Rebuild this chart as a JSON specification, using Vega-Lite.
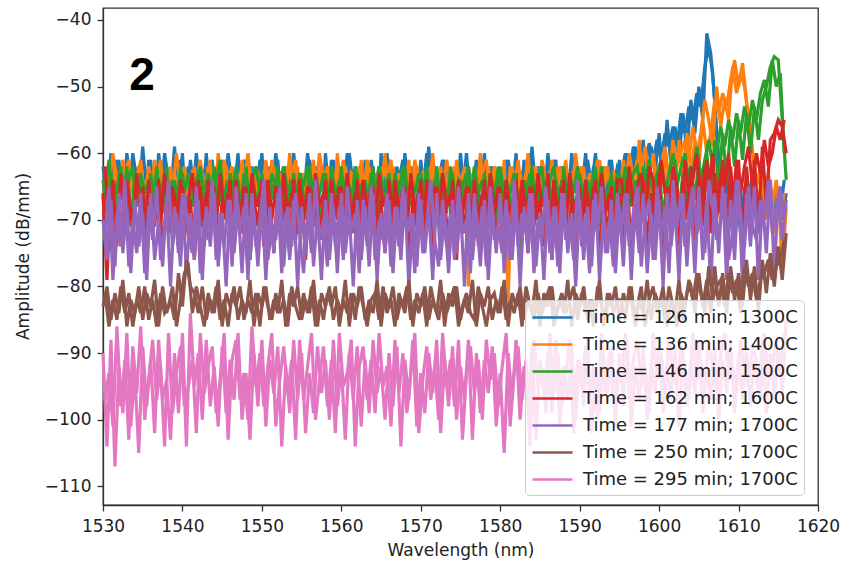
{
"$schema": "https://vega.github.io/schema/vega-lite/v6.json",
"width": 715, "height": 497,
"autosize": "none",
"padding": {"left": 103, "top": 8, "right": 25, "bottom": 58},
"background": "white",
"config": {"view": {"stroke": "#333", "strokeWidth": 1.3}, "font": "DejaVu Sans"},
"layer": [
{
"data": {"values": [
{"x":1530.0,"a":-62,"b":-67,"c":-64,"d":-66,"e":-70,"f":-83,"g":-90},
{"x":1530.5,"a":-67,"b":-63,"c":-69,"d":-79,"e":-76,"f":-80,"g":-104},
{"x":1531.0,"a":-60,"b":-68,"c":-63,"d":-65,"e":-67,"f":-85,"g":-88},
{"x":1531.5,"a":-66,"b":-62,"c":-70,"d":-72,"e":-77,"f":-81,"g":-107},
{"x":1532.0,"a":-61,"b":-66,"c":-64,"d":-67,"e":-66,"f":-84,"g":-92},
{"x":1532.5,"a":-68,"b":-61,"c":-67,"d":-74,"e":-75,"f":-79,"g":-99},
{"x":1533.0,"a":-60,"b":-69,"c":-62,"d":-64,"e":-68,"f":-86,"g":-87},
{"x":1533.5,"a":-65,"b":-63,"c":-71,"d":-70,"e":-78,"f":-82,"g":-101},
{"x":1534.0,"a":-62,"b":-67,"c":-63,"d":-68,"e":-67,"f":-84,"g":-93},
{"x":1534.5,"a":-67,"b":-62,"c":-68,"d":-73,"e":-74,"f":-80,"g":-105},
{"x":1535.0,"a":-59,"b":-66,"c":-65,"d":-65,"e":-69,"f":-85,"g":-89},
{"x":1535.5,"a":-66,"b":-64,"c":-70,"d":-76,"e":-79,"f":-81,"g":-98},
{"x":1536.0,"a":-61,"b":-68,"c":-63,"d":-66,"e":-66,"f":-83,"g":-91},
{"x":1536.5,"a":-69,"b":-61,"c":-67,"d":-71,"e":-76,"f":-79,"g":-102},
{"x":1537.0,"a":-60,"b":-67,"c":-64,"d":-64,"e":-70,"f":-86,"g":-88},
{"x":1537.5,"a":-65,"b":-63,"c":-69,"d":-75,"e":-77,"f":-80,"g":-97},
{"x":1538.0,"a":-62,"b":-66,"c":-62,"d":-67,"e":-67,"f":-84,"g":-94},
{"x":1538.5,"a":-67,"b":-62,"c":-71,"d":-72,"e":-80,"f":-82,"g":-103},
{"x":1539.0,"a":-59,"b":-68,"c":-64,"d":-66,"e":-68,"f":-85,"g":-90},
{"x":1539.5,"a":-66,"b":-63,"c":-68,"d":-74,"e":-75,"f":-78,"g":-99},
{"x":1540.0,"a":-60,"b":-67,"c":-63,"d":-65,"e":-66,"f":-83,"g":-87},
{"x":1540.5,"a":-70,"b":-64,"c":-70,"d":-70,"e":-78,"f":-76,"g":-104},
{"x":1541.0,"a":-61,"b":-66,"c":-65,"d":-67,"e":-69,"f":-80,"g":-84},
{"x":1541.5,"a":-66,"b":-62,"c":-67,"d":-76,"e":-76,"f":-81,"g":-95},
{"x":1542.0,"a":-62,"b":-69,"c":-63,"d":-64,"e":-67,"f":-84,"g":-90},
{"x":1542.5,"a":-68,"b":-63,"c":-71,"d":-71,"e":-79,"f":-80,"g":-100},
{"x":1543.0,"a":-60,"b":-67,"c":-64,"d":-66,"e":-68,"f":-85,"g":-88},
{"x":1543.5,"a":-67,"b":-61,"c":-69,"d":-73,"e":-74,"f":-82,"g":-98},
{"x":1544.0,"a":-63,"b":-68,"c":-62,"d":-65,"e":-66,"f":-84,"g":-92},
{"x":1544.5,"a":-65,"b":-60,"c":-68,"d":-75,"e":-77,"f":-79,"g":-101},
{"x":1545.0,"a":-61,"b":-66,"c":-65,"d":-67,"e":-69,"f":-86,"g":-89},
{"x":1545.5,"a":-69,"b":-62,"c":-70,"d":-70,"e":-80,"f":-81,"g":-99},
{"x":1546.0,"a":-62,"b":-67,"c":-63,"d":-64,"e":-67,"f":-83,"g":-91},
{"x":1546.5,"a":-66,"b":-63,"c":-67,"d":-74,"e":-75,"f":-80,"g":-97},
{"x":1547.0,"a":-60,"b":-68,"c":-64,"d":-66,"e":-68,"f":-85,"g":-87},
{"x":1547.5,"a":-72,"b":-61,"c":-71,"d":-72,"e":-78,"f":-82,"g":-100},
{"x":1548.0,"a":-61,"b":-66,"c":-62,"d":-65,"e":-66,"f":-84,"g":-93},
{"x":1548.5,"a":-67,"b":-62,"c":-69,"d":-76,"e":-76,"f":-79,"g":-103},
{"x":1549.0,"a":-63,"b":-69,"c":-65,"d":-67,"e":-69,"f":-86,"g":-90},
{"x":1549.5,"a":-66,"b":-63,"c":-68,"d":-71,"e":-77,"f":-81,"g":-98},
{"x":1550.0,"a":-60,"b":-67,"c":-63,"d":-64,"e":-67,"f":-83,"g":-88},
{"x":1550.5,"a":-68,"b":-61,"c":-70,"d":-73,"e":-79,"f":-80,"g":-101},
{"x":1551.0,"a":-62,"b":-66,"c":-64,"d":-66,"e":-68,"f":-85,"g":-91},
{"x":1551.5,"a":-65,"b":-62,"c":-67,"d":-75,"e":-75,"f":-82,"g":-96},
{"x":1552.0,"a":-61,"b":-68,"c":-62,"d":-65,"e":-66,"f":-84,"g":-89},
{"x":1552.5,"a":-70,"b":-63,"c":-71,"d":-70,"e":-78,"f":-79,"g":-104},
{"x":1553.0,"a":-62,"b":-67,"c":-65,"d":-67,"e":-69,"f":-86,"g":-92},
{"x":1553.5,"a":-67,"b":-60,"c":-68,"d":-74,"e":-76,"f":-81,"g":-99},
{"x":1554.0,"a":-60,"b":-66,"c":-63,"d":-64,"e":-67,"f":-83,"g":-88},
{"x":1554.5,"a":-66,"b":-62,"c":-69,"d":-72,"e":-80,"f":-80,"g":-97},
{"x":1555.0,"a":-63,"b":-69,"c":-64,"d":-66,"e":-68,"f":-85,"g":-90},
{"x":1555.5,"a":-68,"b":-63,"c":-70,"d":-76,"e":-75,"f":-82,"g":-102},
{"x":1556.0,"a":-61,"b":-67,"c":-62,"d":-65,"e":-66,"f":-84,"g":-93},
{"x":1556.5,"a":-65,"b":-61,"c":-67,"d":-71,"e":-77,"f":-79,"g":-99},
{"x":1557.0,"a":-62,"b":-68,"c":-65,"d":-67,"e":-69,"f":-86,"g":-89},
{"x":1557.5,"a":-73,"b":-62,"c":-71,"d":-73,"e":-79,"f":-81,"g":-96},
{"x":1558.0,"a":-60,"b":-66,"c":-63,"d":-64,"e":-67,"f":-83,"g":-91},
{"x":1558.5,"a":-67,"b":-63,"c":-68,"d":-75,"e":-76,"f":-80,"g":-100},
{"x":1559.0,"a":-61,"b":-69,"c":-64,"d":-66,"e":-68,"f":-85,"g":-88},
{"x":1559.5,"a":-66,"b":-60,"c":-69,"d":-70,"e":-78,"f":-82,"g":-98},
{"x":1560.0,"a":-62,"b":-67,"c":-62,"d":-65,"e":-66,"f":-84,"g":-92},
{"x":1560.5,"a":-69,"b":-62,"c":-70,"d":-74,"e":-75,"f":-79,"g":-103},
{"x":1561.0,"a":-60,"b":-66,"c":-65,"d":-67,"e":-69,"f":-86,"g":-90},
{"x":1561.5,"a":-65,"b":-63,"c":-67,"d":-72,"e":-80,"f":-81,"g":-97},
{"x":1562.0,"a":-63,"b":-68,"c":-63,"d":-64,"e":-67,"f":-83,"g":-89},
{"x":1562.5,"a":-68,"b":-61,"c":-71,"d":-76,"e":-76,"f":-80,"g":-101},
{"x":1563.0,"a":-61,"b":-67,"c":-64,"d":-66,"e":-68,"f":-85,"g":-91},
{"x":1563.5,"a":-66,"b":-62,"c":-68,"d":-71,"e":-77,"f":-82,"g":-99},
{"x":1564.0,"a":-62,"b":-69,"c":-62,"d":-65,"e":-66,"f":-84,"g":-88},
{"x":1564.5,"a":-71,"b":-63,"c":-70,"d":-73,"e":-79,"f":-79,"g":-96},
{"x":1565.0,"a":-60,"b":-66,"c":-65,"d":-67,"e":-69,"f":-86,"g":-92},
{"x":1565.5,"a":-67,"b":-60,"c":-67,"d":-75,"e":-75,"f":-81,"g":-100},
{"x":1566.0,"a":-61,"b":-68,"c":-63,"d":-64,"e":-67,"f":-83,"g":-90},
{"x":1566.5,"a":-65,"b":-62,"c":-69,"d":-70,"e":-78,"f":-80,"g":-98},
{"x":1567.0,"a":-62,"b":-67,"c":-64,"d":-66,"e":-68,"f":-85,"g":-89},
{"x":1567.5,"a":-68,"b":-63,"c":-70,"d":-74,"e":-76,"f":-82,"g":-104},
{"x":1568.0,"a":-60,"b":-66,"c":-62,"d":-65,"e":-66,"f":-84,"g":-91},
{"x":1568.5,"a":-66,"b":-61,"c":-68,"d":-76,"e":-80,"f":-79,"g":-97},
{"x":1569.0,"a":-63,"b":-69,"c":-65,"d":-67,"e":-69,"f":-86,"g":-88},
{"x":1569.5,"a":-69,"b":-62,"c":-71,"d":-71,"e":-77,"f":-81,"g":-101},
{"x":1570.0,"a":-61,"b":-67,"c":-63,"d":-64,"e":-67,"f":-83,"g":-93},
{"x":1570.5,"a":-67,"b":-63,"c":-67,"d":-73,"e":-75,"f":-80,"g":-99},
{"x":1571.0,"a":-59,"b":-66,"c":-64,"d":-66,"e":-68,"f":-85,"g":-90},
{"x":1571.5,"a":-66,"b":-60,"c":-69,"d":-75,"e":-79,"f":-82,"g":-96},
{"x":1572.0,"a":-62,"b":-68,"c":-62,"d":-65,"e":-66,"f":-84,"g":-88},
{"x":1572.5,"a":-70,"b":-62,"c":-70,"d":-70,"e":-76,"f":-79,"g":-102},
{"x":1573.0,"a":-61,"b":-67,"c":-65,"d":-67,"e":-69,"f":-86,"g":-91},
{"x":1573.5,"a":-65,"b":-63,"c":-68,"d":-74,"e":-78,"f":-81,"g":-98},
{"x":1574.0,"a":-63,"b":-69,"c":-63,"d":-64,"e":-67,"f":-83,"g":-89},
{"x":1574.5,"a":-68,"b":-61,"c":-71,"d":-76,"e":-75,"f":-80,"g":-100},
{"x":1575.0,"a":-60,"b":-66,"c":-64,"d":-66,"e":-68,"f":-85,"g":-92},
{"x":1575.5,"a":-67,"b":-62,"c":-67,"d":-72,"e":-80,"f":-82,"g":-97},
{"x":1576.0,"a":-62,"b":-80,"c":-62,"d":-65,"e":-66,"f":-84,"g":-88},
{"x":1576.5,"a":-66,"b":-63,"c":-69,"d":-73,"e":-76,"f":-79,"g":-103},
{"x":1577.0,"a":-61,"b":-67,"c":-65,"d":-67,"e":-69,"f":-86,"g":-90},
{"x":1577.5,"a":-71,"b":-60,"c":-70,"d":-75,"e":-77,"f":-81,"g":-99},
{"x":1578.0,"a":-60,"b":-68,"c":-63,"d":-64,"e":-67,"f":-83,"g":-91},
{"x":1578.5,"a":-67,"b":-62,"c":-68,"d":-70,"e":-79,"f":-80,"g":-96},
{"x":1579.0,"a":-62,"b":-66,"c":-64,"d":-66,"e":-68,"f":-85,"g":-89},
{"x":1579.5,"a":-65,"b":-63,"c":-71,"d":-74,"e":-75,"f":-82,"g":-101},
{"x":1580.0,"a":-63,"b":-69,"c":-62,"d":-65,"e":-66,"f":-84,"g":-93},
{"x":1580.5,"a":-68,"b":-61,"c":-67,"d":-76,"e":-78,"f":-79,"g":-105},
{"x":1581.0,"a":-61,"b":-82,"c":-65,"d":-67,"e":-69,"f":-86,"g":-90},
{"x":1581.5,"a":-66,"b":-62,"c":-69,"d":-71,"e":-76,"f":-81,"g":-97},
{"x":1582.0,"a":-60,"b":-67,"c":-63,"d":-64,"e":-67,"f":-83,"g":-88},
{"x":1582.5,"a":-69,"b":-63,"c":-78,"d":-73,"e":-80,"f":-80,"g":-100},
{"x":1583.0,"a":-61,"b":-66,"c":-64,"d":-66,"e":-68,"f":-85,"g":-92},
{"x":1583.5,"a":-67,"b":-60,"c":-68,"d":-75,"e":-75,"f":-82,"g":-98},
{"x":1584.0,"a":-59,"b":-68,"c":-62,"d":-65,"e":-66,"f":-84,"g":-89},
{"x":1584.5,"a":-66,"b":-62,"c":-70,"d":-70,"e":-77,"f":-79,"g":-103},
{"x":1585.0,"a":-62,"b":-67,"c":-65,"d":-67,"e":-69,"f":-86,"g":-91},
{"x":1585.5,"a":-68,"b":-63,"c":-67,"d":-74,"e":-79,"f":-81,"g":-96},
{"x":1586.0,"a":-60,"b":-69,"c":-63,"d":-63,"e":-67,"f":-83,"g":-90},
{"x":1586.5,"a":-65,"b":-61,"c":-69,"d":-76,"e":-76,"f":-80,"g":-99},
{"x":1587.0,"a":-61,"b":-66,"c":-64,"d":-66,"e":-68,"f":-85,"g":-88},
{"x":1587.5,"a":-72,"b":-62,"c":-71,"d":-72,"e":-78,"f":-82,"g":-101},
{"x":1588.0,"a":-62,"b":-68,"c":-62,"d":-64,"e":-66,"f":-84,"g":-92},
{"x":1588.5,"a":-67,"b":-63,"c":-68,"d":-73,"e":-75,"f":-79,"g":-97},
{"x":1589.0,"a":-60,"b":-67,"c":-65,"d":-67,"e":-69,"f":-86,"g":-89},
{"x":1589.5,"a":-66,"b":-60,"c":-70,"d":-75,"e":-80,"f":-81,"g":-100},
{"x":1590.0,"a":-63,"b":-66,"c":-63,"d":-65,"e":-67,"f":-83,"g":-91},
{"x":1590.5,"a":-69,"b":-62,"c":-67,"d":-71,"e":-76,"f":-80,"g":-98},
{"x":1591.0,"a":-61,"b":-69,"c":-64,"d":-66,"e":-68,"f":-85,"g":-88},
{"x":1591.5,"a":-65,"b":-63,"c":-69,"d":-74,"e":-77,"f":-82,"g":-102},
{"x":1592.0,"a":-60,"b":-67,"c":-62,"d":-64,"e":-66,"f":-84,"g":-93},
{"x":1592.5,"a":-68,"b":-61,"c":-71,"d":-76,"e":-79,"f":-79,"g":-99},
{"x":1593.0,"a":-62,"b":-66,"c":-65,"d":-67,"e":-69,"f":-86,"g":-90},
{"x":1593.5,"a":-66,"b":-62,"c":-68,"d":-72,"e":-75,"f":-81,"g":-96},
{"x":1594.0,"a":-61,"b":-68,"c":-63,"d":-65,"e":-67,"f":-83,"g":-89},
{"x":1594.5,"a":-67,"b":-63,"c":-70,"d":-73,"e":-78,"f":-80,"g":-101},
{"x":1595.0,"a":-61,"b":-67,"c":-63,"d":-66,"e":-68,"f":-85,"g":-90},
{"x":1595.5,"a":-66,"b":-61,"c":-69,"d":-73,"e":-77,"f":-81,"g":-98},
{"x":1596.0,"a":-60,"b":-66,"c":-62,"d":-64,"e":-66,"f":-83,"g":-88},
{"x":1596.5,"a":-65,"b":-62,"c":-68,"d":-75,"e":-79,"f":-80,"g":-101},
{"x":1597.0,"a":-59,"b":-68,"c":-64,"d":-66,"e":-68,"f":-86,"g":-92},
{"x":1597.5,"a":-64,"b":-58,"c":-70,"d":-70,"e":-75,"f":-82,"g":-97},
{"x":1598.0,"a":-58,"b":-66,"c":-62,"d":-64,"e":-66,"f":-84,"g":-89},
{"x":1598.5,"a":-65,"b":-61,"c":-67,"d":-74,"e":-78,"f":-79,"g":-100},
{"x":1599.0,"a":-59,"b":-67,"c":-63,"d":-66,"e":-69,"f":-85,"g":-91},
{"x":1599.5,"a":-63,"b":-62,"c":-69,"d":-72,"e":-76,"f":-81,"g":-96},
{"x":1600.0,"a":-57,"b":-68,"c":-62,"d":-63,"e":-67,"f":-83,"g":-88},
{"x":1600.5,"a":-64,"b":-60,"c":-70,"d":-75,"e":-80,"f":-80,"g":-99},
{"x":1601.0,"a":-55,"b":-66,"c":-64,"d":-65,"e":-66,"f":-86,"g":-92},
{"x":1601.5,"a":-62,"b":-61,"c":-67,"d":-71,"e":-74,"f":-82,"g":-97},
{"x":1602.0,"a":-56,"b":-65,"c":-61,"d":-63,"e":-68,"f":-84,"g":-89},
{"x":1602.5,"a":-61,"b":-58,"c":-69,"d":-74,"e":-79,"f":-79,"g":-101},
{"x":1603.0,"a":-54,"b":-64,"c":-63,"d":-64,"e":-66,"f":-85,"g":-90},
{"x":1603.5,"a":-60,"b":-57,"c":-68,"d":-70,"e":-77,"f":-81,"g":-98},
{"x":1604.0,"a":-52,"b":-63,"c":-62,"d":-62,"e":-67,"f":-80,"g":-91},
{"x":1604.5,"a":-57,"b":-58,"c":-67,"d":-73,"e":-78,"f":-84,"g":-96},
{"x":1605.0,"a":-50,"b":-62,"c":-61,"d":-63,"e":-65,"f":-78,"g":-88},
{"x":1605.5,"a":-55,"b":-55,"c":-69,"d":-71,"e":-76,"f":-83,"g":-99},
{"x":1606.0,"a":-42,"b":-60,"c":-60,"d":-61,"e":-67,"f":-79,"g":-92},
{"x":1606.5,"a":-45,"b":-57,"c":-66,"d":-72,"e":-80,"f":-84,"g":-97},
{"x":1607.0,"a":-52,"b":-52,"c":-58,"d":-63,"e":-66,"f":-77,"g":-89},
{"x":1607.5,"a":-62,"b":-54,"c":-65,"d":-69,"e":-75,"f":-83,"g":-100},
{"x":1608.0,"a":-66,"b":-51,"c":-57,"d":-61,"e":-65,"f":-78,"g":-91},
{"x":1608.5,"a":-71,"b":-53,"c":-64,"d":-72,"e":-79,"f":-84,"g":-96},
{"x":1609.0,"a":-65,"b":-49,"c":-56,"d":-62,"e":-67,"f":-77,"g":-88},
{"x":1609.5,"a":-74,"b":-46,"c":-62,"d":-70,"e":-76,"f":-82,"g":-99},
{"x":1610.0,"a":-64,"b":-50,"c":-55,"d":-61,"e":-64,"f":-78,"g":-90},
{"x":1610.5,"a":-77,"b":-46.5,"c":-61,"d":-73,"e":-80,"f":-83,"g":-97},
{"x":1611.0,"a":-66,"b":-52,"c":-54,"d":-62,"e":-66,"f":-76,"g":-89},
{"x":1611.5,"a":-70,"b":-57,"c":-60,"d":-69,"e":-74,"f":-82,"g":-98},
{"x":1612.0,"a":-65,"b":-62,"c":-53,"d":-61,"e":-65,"f":-77,"g":-91},
{"x":1612.5,"a":-72,"b":-68,"c":-58,"d":-71,"e":-79,"f":-84,"g":-96},
{"x":1613.0,"a":-64,"b":-63,"c":-52,"d":-59,"e":-67,"f":-76,"g":-88},
{"x":1613.5,"a":-69,"b":-70,"c":-50,"d":-68,"e":-75,"f":-81,"g":-99},
{"x":1614.0,"a":-66,"b":-64,"c":-47,"d":-58,"e":-64,"f":-75,"g":-90},
{"x":1614.5,"a":-71,"b":-72,"c":-45.5,"d":-57,"e":-78,"f":-80,"g":-97},
{"x":1615.0,"a":-65,"b":-65,"c":-46,"d":-55,"e":-66,"f":-74,"g":-89},
{"x":1615.5,"a":-70,"b":-78,"c":-55,"d":-56,"e":-73,"f":-79,"g":-96},
{"x":1616.0,"a":-66,"b":-68,"c":-64,"d":-60,"e":-67,"f":-72,"g":-85},
{"x":1530.25,"p":1,"a":-64,"b":-62,"c":-66,"d":-62,"e":-73,"f":-81,"g":-97},
{"x":1530.75,"p":1,"a":-63,"b":-65,"c":-61,"d":-70,"e":-65,"f":-86,"g":-93},
{"x":1531.25,"p":1,"a":-68,"b":-60,"c":-67,"d":-64,"e":-79,"f":-82,"g":-101},
{"x":1531.75,"p":1,"a":-61,"b":-64,"c":-65,"d":-74,"e":-69,"f":-85,"g":-86},
{"x":1532.25,"p":1,"a":-65,"b":-68,"c":-62,"d":-63,"e":-74,"f":-80,"g":-98},
{"x":1532.75,"p":1,"a":-62,"b":-63,"c":-69,"d":-69,"e":-64,"f":-84,"g":-91},
{"x":1533.25,"p":1,"a":-67,"b":-61,"c":-64,"d":-66,"e":-77,"f":-81,"g":-103},
{"x":1533.75,"p":1,"a":-60,"b":-66,"c":-62,"d":-72,"e":-70,"f":-86,"g":-89},
{"x":1534.25,"p":1,"a":-64,"b":-64,"c":-68,"d":-63,"e":-75,"f":-82,"g":-96},
{"x":1534.75,"p":1,"a":-63,"b":-61,"c":-63,"d":-69,"e":-66,"f":-84,"g":-86},
{"x":1535.25,"p":1,"a":-69,"b":-67,"c":-66,"d":-73,"e":-78,"f":-80,"g":-100},
{"x":1535.75,"p":1,"a":-61,"b":-62,"c":-64,"d":-64,"e":-68,"f":-85,"g":-94},
{"x":1536.25,"p":1,"a":-65,"b":-65,"c":-70,"d":-70,"e":-73,"f":-82,"g":-88},
{"x":1536.75,"p":1,"a":-62,"b":-64,"c":-62,"d":-66,"e":-65,"f":-86,"g":-97},
{"x":1537.25,"p":1,"a":-67,"b":-61,"c":-67,"d":-71,"e":-76,"f":-81,"g":-92},
{"x":1537.75,"p":1,"a":-60,"b":-68,"c":-63,"d":-63,"e":-71,"f":-84,"g":-104},
{"x":1538.25,"p":1,"a":-64,"b":-63,"c":-66,"d":-69,"e":-64,"f":-83,"g":-87},
{"x":1538.75,"p":1,"a":-63,"b":-66,"c":-64,"d":-65,"e":-74,"f":-80,"g":-99},
{"x":1539.25,"p":1,"a":-68,"b":-60,"c":-69,"d":-72,"e":-69,"f":-86,"g":-93},
{"x":1539.75,"p":1,"a":-61,"b":-65,"c":-62,"d":-64,"e":-77,"f":-82,"g":-89},
{"x":1540.25,"p":1,"a":-65,"b":-62,"c":-66,"d":-73,"e":-66,"f":-78,"g":-98},
{"x":1540.75,"p":1,"a":-62,"b":-67,"c":-63,"d":-67,"e":-72,"f":-77,"g":-95},
{"x":1541.25,"p":1,"a":-67,"b":-63,"c":-68,"d":-63,"e":-75,"f":-84,"g":-91},
{"x":1541.75,"p":1,"a":-60,"b":-64,"c":-64,"d":-70,"e":-65,"f":-80,"g":-102},
{"x":1542.25,"p":1,"a":-66,"b":-61,"c":-62,"d":-65,"e":-78,"f":-83,"g":-87},
{"x":1542.75,"p":1,"a":-63,"b":-66,"c":-67,"d":-74,"e":-70,"f":-86,"g":-96},
{"x":1543.25,"p":1,"a":-64,"b":-62,"c":-63,"d":-64,"e":-73,"f":-81,"g":-92},
{"x":1543.75,"p":1,"a":-61,"b":-65,"c":-66,"d":-68,"e":-64,"f":-84,"g":-89},
{"x":1544.25,"p":1,"a":-69,"b":-63,"c":-64,"d":-71,"e":-76,"f":-80,"g":-99},
{"x":1544.75,"p":1,"a":-62,"b":-67,"c":-61,"d":-63,"e":-69,"f":-85,"g":-94},
{"x":1545.25,"p":1,"a":-66,"b":-61,"c":-68,"d":-69,"e":-74,"f":-82,"g":-87},
{"x":1545.75,"p":1,"a":-60,"b":-64,"c":-64,"d":-66,"e":-67,"f":-86,"g":-103},
{"x":1546.25,"p":1,"a":-65,"b":-62,"c":-66,"d":-72,"e":-77,"f":-81,"g":-91},
{"x":1546.75,"p":1,"a":-63,"b":-68,"c":-62,"d":-64,"e":-65,"f":-83,"g":-88},
{"x":1547.25,"p":1,"a":-67,"b":-63,"c":-69,"d":-70,"e":-72,"f":-80,"g":-97},
{"x":1547.75,"p":1,"a":-61,"b":-65,"c":-63,"d":-65,"e":-68,"f":-85,"g":-93},
{"x":1548.25,"p":1,"a":-64,"b":-60,"c":-67,"d":-73,"e":-79,"f":-82,"g":-100},
{"x":1548.75,"p":1,"a":-62,"b":-66,"c":-64,"d":-63,"e":-66,"f":-84,"g":-86},
{"x":1549.25,"p":1,"a":-68,"b":-62,"c":-62,"d":-68,"e":-74,"f":-81,"g":-95},
{"x":1549.75,"p":1,"a":-61,"b":-64,"c":-66,"d":-66,"e":-70,"f":-86,"g":-90},
{"x":1550.25,"p":1,"a":-65,"b":-63,"c":-64,"d":-74,"e":-64,"f":-80,"g":-98},
{"x":1550.75,"p":1,"a":-63,"b":-67,"c":-68,"d":-64,"e":-76,"f":-83,"g":-92},
{"x":1551.25,"p":1,"a":-66,"b":-61,"c":-63,"d":-70,"e":-71,"f":-85,"g":-87},
{"x":1551.75,"p":1,"a":-60,"b":-65,"c":-65,"d":-65,"e":-73,"f":-81,"g":-101},
{"x":1552.25,"p":1,"a":-64,"b":-63,"c":-69,"d":-72,"e":-65,"f":-84,"g":-94},
{"x":1552.75,"p":1,"a":-62,"b":-66,"c":-62,"d":-63,"e":-77,"f":-82,"g":-89},
{"x":1553.25,"p":1,"a":-69,"b":-62,"c":-66,"d":-69,"e":-68,"f":-86,"g":-96},
{"x":1553.75,"p":1,"a":-61,"b":-64,"c":-64,"d":-66,"e":-74,"f":-80,"g":-91},
{"x":1554.25,"p":1,"a":-65,"b":-61,"c":-67,"d":-73,"e":-66,"f":-83,"g":-103},
{"x":1554.75,"p":1,"a":-63,"b":-68,"c":-63,"d":-64,"e":-72,"f":-85,"g":-88},
{"x":1555.25,"p":1,"a":-67,"b":-63,"c":-65,"d":-70,"e":-78,"f":-81,"g":-97},
{"x":1555.75,"p":1,"a":-60,"b":-65,"c":-62,"d":-65,"e":-69,"f":-84,"g":-92},
{"x":1556.25,"p":1,"a":-64,"b":-62,"c":-68,"d":-71,"e":-75,"f":-80,"g":-87},
{"x":1556.75,"p":1,"a":-62,"b":-66,"c":-64,"d":-63,"e":-64,"f":-86,"g":-100},
{"x":1557.25,"p":1,"a":-66,"b":-60,"c":-66,"d":-68,"e":-73,"f":-82,"g":-94},
{"x":1557.75,"p":1,"a":-63,"b":-64,"c":-63,"d":-66,"e":-70,"f":-85,"g":-89},
{"x":1558.25,"p":1,"a":-68,"b":-62,"c":-69,"d":-74,"e":-77,"f":-81,"g":-98},
{"x":1558.75,"p":1,"a":-61,"b":-67,"c":-62,"d":-64,"e":-66,"f":-83,"g":-91},
{"x":1559.25,"p":1,"a":-65,"b":-63,"c":-67,"d":-69,"e":-74,"f":-80,"g":-102},
{"x":1559.75,"p":1,"a":-62,"b":-65,"c":-64,"d":-65,"e":-68,"f":-86,"g":-87},
{"x":1560.25,"p":1,"a":-66,"b":-61,"c":-66,"d":-72,"e":-76,"f":-82,"g":-95},
{"x":1560.75,"p":1,"a":-60,"b":-66,"c":-63,"d":-63,"e":-65,"f":-84,"g":-93},
{"x":1561.25,"p":1,"a":-67,"b":-63,"c":-68,"d":-70,"e":-72,"f":-81,"g":-88},
{"x":1561.75,"p":1,"a":-62,"b":-64,"c":-62,"d":-66,"e":-69,"f":-85,"g":-104},
{"x":1562.25,"p":1,"a":-64,"b":-62,"c":-66,"d":-73,"e":-78,"f":-80,"g":-92},
{"x":1562.75,"p":1,"a":-63,"b":-67,"c":-64,"d":-64,"e":-67,"f":-83,"g":-89},
{"x":1563.25,"p":1,"a":-69,"b":-61,"c":-69,"d":-69,"e":-74,"f":-86,"g":-97},
{"x":1563.75,"p":1,"a":-61,"b":-65,"c":-63,"d":-65,"e":-65,"f":-82,"g":-91},
{"x":1564.25,"p":1,"a":-65,"b":-63,"c":-67,"d":-72,"e":-76,"f":-81,"g":-99},
{"x":1564.75,"p":1,"a":-62,"b":-66,"c":-62,"d":-63,"e":-70,"f":-85,"g":-87},
{"x":1565.25,"p":1,"a":-66,"b":-62,"c":-65,"d":-68,"e":-73,"f":-80,"g":-95},
{"x":1565.75,"p":1,"a":-60,"b":-64,"c":-64,"d":-66,"e":-66,"f":-84,"g":-92},
{"x":1566.25,"p":1,"a":-67,"b":-61,"c":-68,"d":-74,"e":-77,"f":-82,"g":-101},
{"x":1566.75,"p":1,"a":-63,"b":-67,"c":-63,"d":-64,"e":-68,"f":-86,"g":-88},
{"x":1567.25,"p":1,"a":-64,"b":-63,"c":-66,"d":-70,"e":-74,"f":-81,"g":-96},
{"x":1567.75,"p":1,"a":-61,"b":-65,"c":-62,"d":-65,"e":-65,"f":-83,"g":-90},
{"x":1568.25,"p":1,"a":-68,"b":-62,"c":-69,"d":-72,"e":-72,"f":-80,"g":-99},
{"x":1568.75,"p":1,"a":-62,"b":-66,"c":-64,"d":-63,"e":-69,"f":-85,"g":-93},
{"x":1569.25,"p":1,"a":-65,"b":-61,"c":-66,"d":-69,"e":-78,"f":-82,"g":-87},
{"x":1569.75,"p":1,"a":-63,"b":-64,"c":-63,"d":-66,"e":-66,"f":-84,"g":-102},
{"x":1570.25,"p":1,"a":-66,"b":-63,"c":-67,"d":-73,"e":-75,"f":-81,"g":-94},
{"x":1570.75,"p":1,"a":-60,"b":-67,"c":-62,"d":-64,"e":-71,"f":-86,"g":-89},
{"x":1571.25,"p":1,"a":-67,"b":-62,"c":-68,"d":-70,"e":-64,"f":-80,"g":-97},
{"x":1571.75,"p":1,"a":-62,"b":-65,"c":-64,"d":-65,"e":-73,"f":-83,"g":-92},
{"x":1572.25,"p":1,"a":-64,"b":-63,"c":-66,"d":-71,"e":-77,"f":-85,"g":-100},
{"x":1572.75,"p":1,"a":-61,"b":-66,"c":-63,"d":-63,"e":-67,"f":-81,"g":-87},
{"x":1573.25,"p":1,"a":-68,"b":-61,"c":-69,"d":-68,"e":-74,"f":-84,"g":-95},
{"x":1573.75,"p":1,"a":-63,"b":-64,"c":-62,"d":-66,"e":-69,"f":-82,"g":-91},
{"x":1574.25,"p":1,"a":-65,"b":-62,"c":-67,"d":-74,"e":-76,"f":-80,"g":-98},
{"x":1574.75,"p":1,"a":-62,"b":-67,"c":-64,"d":-64,"e":-65,"f":-86,"g":-88},
{"x":1575.25,"p":1,"a":-66,"b":-63,"c":-65,"d":-69,"e":-72,"f":-83,"g":-103},
{"x":1575.75,"p":1,"a":-60,"b":-65,"c":-63,"d":-65,"e":-70,"f":-81,"g":-93},
{"x":1576.25,"p":1,"a":-67,"b":-72,"c":-68,"d":-72,"e":-78,"f":-84,"g":-89},
{"x":1576.75,"p":1,"a":-63,"b":-62,"c":-62,"d":-64,"e":-66,"f":-85,"g":-96},
{"x":1577.25,"p":1,"a":-64,"b":-66,"c":-66,"d":-70,"e":-74,"f":-80,"g":-91},
{"x":1577.75,"p":1,"a":-61,"b":-63,"c":-64,"d":-66,"e":-68,"f":-83,"g":-100},
{"x":1578.25,"p":1,"a":-68,"b":-61,"c":-69,"d":-73,"e":-77,"f":-86,"g":-88},
{"x":1578.75,"p":1,"a":-62,"b":-67,"c":-63,"d":-63,"e":-65,"f":-82,"g":-94},
{"x":1579.25,"p":1,"a":-66,"b":-62,"c":-67,"d":-69,"e":-73,"f":-81,"g":-90},
{"x":1579.75,"p":1,"a":-63,"b":-64,"c":-62,"d":-65,"e":-71,"f":-84,"g":-98},
{"x":1580.25,"p":1,"a":-65,"b":-63,"c":-68,"d":-72,"e":-75,"f":-80,"g":-92},
{"x":1580.75,"p":1,"a":-61,"b":-74,"c":-64,"d":-64,"e":-67,"f":-85,"g":-87},
{"x":1581.25,"p":1,"a":-67,"b":-62,"c":-66,"d":-70,"e":-76,"f":-82,"g":-101},
{"x":1581.75,"p":1,"a":-62,"b":-65,"c":-63,"d":-66,"e":-64,"f":-84,"g":-93},
{"x":1582.25,"p":1,"a":-64,"b":-61,"c":-70,"d":-73,"e":-74,"f":-81,"g":-89},
{"x":1582.75,"p":1,"a":-63,"b":-66,"c":-72,"d":-64,"e":-69,"f":-86,"g":-97},
{"x":1583.25,"p":1,"a":-68,"b":-63,"c":-66,"d":-69,"e":-72,"f":-80,"g":-91},
{"x":1583.75,"p":1,"a":-60,"b":-65,"c":-63,"d":-65,"e":-66,"f":-83,"g":-104},
{"x":1584.25,"p":1,"a":-66,"b":-62,"c":-67,"d":-71,"e":-78,"f":-85,"g":-88},
{"x":1584.75,"p":1,"a":-62,"b":-67,"c":-64,"d":-63,"e":-70,"f":-81,"g":-95},
{"x":1585.25,"p":1,"a":-65,"b":-61,"c":-62,"d":-68,"e":-73,"f":-84,"g":-92},
{"x":1585.75,"p":1,"a":-63,"b":-64,"c":-68,"d":-66,"e":-65,"f":-82,"g":-99},
{"x":1586.25,"p":1,"a":-67,"b":-63,"c":-64,"d":-74,"e":-75,"f":-80,"g":-87},
{"x":1586.75,"p":1,"a":-61,"b":-66,"c":-62,"d":-64,"e":-68,"f":-86,"g":-96},
{"x":1587.25,"p":1,"a":-64,"b":-62,"c":-67,"d":-70,"e":-77,"f":-83,"g":-90},
{"x":1587.75,"p":1,"a":-62,"b":-65,"c":-64,"d":-65,"e":-66,"f":-81,"g":-98},
{"x":1588.25,"p":1,"a":-69,"b":-61,"c":-69,"d":-72,"e":-73,"f":-84,"g":-93},
{"x":1588.75,"p":1,"a":-63,"b":-67,"c":-63,"d":-63,"e":-70,"f":-82,"g":-88},
{"x":1589.25,"p":1,"a":-65,"b":-63,"c":-66,"d":-69,"e":-76,"f":-80,"g":-102},
{"x":1589.75,"p":1,"a":-62,"b":-64,"c":-62,"d":-66,"e":-64,"f":-85,"g":-91},
{"x":1590.25,"p":1,"a":-66,"b":-62,"c":-68,"d":-73,"e":-74,"f":-81,"g":-95},
{"x":1590.75,"p":1,"a":-60,"b":-66,"c":-64,"d":-64,"e":-69,"f":-84,"g":-89},
{"x":1591.25,"p":1,"a":-67,"b":-63,"c":-66,"d":-70,"e":-78,"f":-82,"g":-97},
{"x":1591.75,"p":1,"a":-62,"b":-65,"c":-63,"d":-65,"e":-67,"f":-86,"g":-92},
{"x":1592.25,"p":1,"a":-64,"b":-61,"c":-67,"d":-72,"e":-72,"f":-80,"g":-100},
{"x":1592.75,"p":1,"a":-63,"b":-66,"c":-62,"d":-63,"e":-65,"f":-83,"g":-87},
{"x":1593.25,"p":1,"a":-68,"b":-62,"c":-69,"d":-69,"e":-75,"f":-85,"g":-96},
{"x":1593.75,"p":1,"a":-61,"b":-64,"c":-64,"d":-66,"e":-70,"f":-81,"g":-90},
{"x":1594.25,"p":1,"a":-65,"b":-63,"c":-66,"d":-74,"e":-77,"f":-84,"g":-98},
{"x":1594.75,"p":1,"a":-62,"b":-67,"c":-63,"d":-64,"e":-66,"f":-82,"g":-93},
{"x":1595.25,"p":1,"a":-63,"b":-63,"c":-66,"d":-64,"e":-72,"f":-82,"g":-94},
{"x":1595.75,"p":1,"a":-60,"b":-65,"c":-62,"d":-69,"e":-66,"f":-85,"g":-87},
{"x":1596.25,"p":1,"a":-64,"b":-60,"c":-65,"d":-62,"e":-74,"f":-80,"g":-97},
{"x":1596.75,"p":1,"a":-59,"b":-64,"c":-63,"d":-68,"e":-69,"f":-84,"g":-91},
{"x":1597.25,"p":1,"a":-63,"b":-61,"c":-62,"d":-65,"e":-65,"f":-83,"g":-88},
{"x":1597.75,"p":1,"a":-60,"b":-63,"c":-67,"d":-63,"e":-77,"f":-80,"g":-95},
{"x":1598.25,"p":1,"a":-62,"b":-59,"c":-64,"d":-70,"e":-70,"f":-86,"g":-92},
{"x":1598.75,"p":1,"a":-58.5,"b":-64,"c":-61,"d":-62,"e":-67,"f":-82,"g":-99},
{"x":1599.25,"p":1,"a":-61,"b":-60,"c":-66,"d":-64,"e":-76,"f":-80,"g":-87},
{"x":1599.75,"p":1,"a":-58,"b":-65,"c":-63,"d":-71,"e":-65,"f":-84,"g":-94},
{"x":1600.25,"p":1,"a":-61,"b":-62,"c":-61,"d":-61,"e":-73,"f":-82,"g":-90},
{"x":1600.75,"p":1,"a":-57,"b":-59,"c":-66,"d":-66,"e":-68,"f":-85,"g":-96},
{"x":1601.25,"p":1,"a":-59,"b":-64,"c":-63,"d":-68,"e":-78,"f":-80,"g":-88},
{"x":1601.75,"p":1,"a":-56,"b":-58,"c":-60,"d":-62,"e":-64,"f":-83,"g":-93},
{"x":1602.25,"p":1,"a":-59,"b":-62,"c":-65,"d":-65,"e":-71,"f":-86,"g":-95},
{"x":1602.75,"p":1,"a":-54,"b":-60,"c":-62,"d":-72,"e":-66,"f":-81,"g":-89},
{"x":1603.25,"p":1,"a":-57,"b":-58,"c":-60,"d":-61,"e":-74,"f":-83,"g":-92},
{"x":1603.75,"p":1,"a":-53,"b":-61,"c":-64,"d":-67,"e":-69,"f":-79,"g":-97},
{"x":1604.25,"p":1,"a":-55,"b":-56,"c":-63,"d":-64,"e":-65,"f":-82,"g":-87},
{"x":1604.75,"p":1,"a":-51,"b":-60,"c":-59,"d":-60,"e":-72,"f":-78,"g":-94},
{"x":1605.25,"p":1,"a":-53,"b":-57,"c":-64,"d":-69,"e":-70,"f":-81,"g":-91},
{"x":1605.75,"p":1,"a":-47,"b":-52,"c":-61,"d":-62,"e":-75,"f":-84,"g":-95},
{"x":1606.25,"p":1,"a":-44,"b":-55,"c":-58,"d":-66,"e":-64,"f":-77,"g":-88},
{"x":1606.75,"p":1,"a":-48,"b":-59,"c":-62,"d":-60,"e":-68,"f":-82,"g":-93},
{"x":1607.25,"p":1,"a":-57,"b":-50,"c":-60,"d":-70,"e":-73,"f":-80,"g":-96},
{"x":1607.75,"p":1,"a":-64,"b":-56,"c":-56,"d":-63,"e":-70,"f":-79,"g":-90},
{"x":1608.25,"p":1,"a":-68,"b":-52,"c":-59,"d":-65,"e":-66,"f":-83,"g":-87},
{"x":1608.75,"p":1,"a":-63,"b":-55,"c":-55,"d":-60,"e":-76,"f":-78,"g":-94},
{"x":1609.25,"p":1,"a":-70,"b":-47,"c":-58,"d":-68,"e":-72,"f":-81,"g":-92},
{"x":1609.75,"p":1,"a":-66,"b":-51,"c":-54,"d":-61,"e":-64,"f":-79,"g":-96},
{"x":1610.25,"p":1,"a":-72,"b":-48,"c":-57,"d":-66,"e":-69,"f":-84,"g":-88},
{"x":1610.75,"p":1,"a":-65,"b":-50,"c":-53,"d":-62,"e":-74,"f":-77,"g":-93},
{"x":1611.25,"p":1,"a":-69,"b":-55,"c":-56,"d":-59,"e":-65,"f":-80,"g":-95},
{"x":1611.75,"p":1,"a":-63,"b":-60,"c":-52,"d":-65,"e":-71,"f":-78,"g":-89},
{"x":1612.25,"p":1,"a":-70,"b":-65,"c":-55,"d":-60,"e":-73,"f":-82,"g":-91},
{"x":1612.75,"p":1,"a":-66,"b":-62,"c":-51,"d":-63,"e":-67,"f":-79,"g":-97},
{"x":1613.25,"p":1,"a":-68,"b":-67,"c":-49,"d":-58,"e":-70,"f":-78,"g":-87},
{"x":1613.75,"p":1,"a":-64,"b":-63,"c":-53,"d":-62,"e":-64,"f":-76,"g":-94},
{"x":1614.25,"p":1,"a":-70,"b":-68,"c":-46,"d":-60,"e":-72,"f":-79,"g":-92},
{"x":1614.75,"p":1,"a":-65,"b":-64,"c":-50,"d":-56,"e":-68,"f":-77,"g":-88},
{"x":1615.25,"p":1,"a":-69,"b":-70,"c":-48,"d":-58,"e":-65,"f":-76,"g":-93},
{"x":1615.75,"p":1,"a":-64,"b":-66,"c":-60,"d":-55,"e":-70,"f":-73,"g":-87}
]},
"transform": [{"fold": ["a","b","c","d","e","f","g"], "as": ["s","y"]}],
"encoding": {
"x": {"field": "x", "type": "quantitative", "scale": {"domain": [1530, 1620], "nice": false, "zero": false},
 "axis": {"title": "Wavelength (nm)", "format": "d", "values": [1530,1540,1550,1560,1570,1580,1590,1600,1610,1620], "grid": false, "labelFlush": false, "labelOverlap": false, "tickSize": 6, "tickWidth": 1.3, "tickColor": "#333", "domainColor": "#333", "domainWidth": 1.3, "labelFontSize": 17, "labelColor": "#222", "labelPadding": 7, "titleFontSize": 17, "titleFontWeight": "normal", "titleColor": "#222", "titleY": 45, "titleBaseline": "middle"}},
"y": {"field": "y", "type": "quantitative", "scale": {"domain": [-112.8, -38.2], "nice": false, "zero": false},
 "axis": {"title": "Amplitude (dB/mm)", "values": [-110,-100,-90,-80,-70,-60,-50,-40], "grid": false, "labelOverlap": false, "labelFlush": false, "tickSize": 6, "tickWidth": 1.3, "tickColor": "#333", "domainColor": "#333", "domainWidth": 1.3, "labelFontSize": 17, "labelColor": "#222", "labelPadding": 6, "titleFontSize": 17, "titleFontWeight": "normal", "titleColor": "#222", "titleX": -80, "titleY": 248, "titleBaseline": "middle", "titleAlign": "center", "titleAngle": -90}},
"color": {"field": "s", "type": "nominal",
 "scale": {"domain": ["a","b","c","d","e","f","g"], "range": ["#1f77b4","#ff7f0e","#2ca02c","#d62728","#9467bd","#8c564b","#e377c2"]},
 "legend": {"title": null, "orient": "none", "legendX": 422, "legendY": 292, "symbolType": "M-1,0H3", "symbolSize": 400, "symbolStrokeWidth": 2.5, "labelFontSize": 18, "labelColor": "#222", "labelFont": "DejaVu Sans", "labelLimit": 400, "fillColor": "rgba(255,255,255,0.8)", "strokeColor": "#cccccc", "cornerRadius": 4, "padding": 6, "rowPadding": 6, "labelOffset": 29,
  "labelExpr": "datum.value=='a'?'Time = 126 min; 1300C':datum.value=='b'?'Time = 136 min; 1400C':datum.value=='c'?'Time = 146 min; 1500C':datum.value=='d'?'Time = 162 min; 1600C':datum.value=='e'?'Time = 177 min; 1700C':datum.value=='f'?'Time = 250 min; 1700C':'Time = 295 min; 1700C'"}},
"detail": {"field": "p", "type": "nominal"}
},
"layer": [
{"transform": [{"filter": {"field": "s", "equal": "a"}}], "mark": {"type": "line", "strokeWidth": 3.2}},
{"transform": [{"filter": {"field": "s", "equal": "b"}}], "mark": {"type": "line", "strokeWidth": 3.2}},
{"transform": [{"filter": {"field": "s", "equal": "c"}}], "mark": {"type": "line", "strokeWidth": 3.2}},
{"transform": [{"filter": {"field": "s", "equal": "d"}}], "mark": {"type": "line", "strokeWidth": 3.2}},
{"transform": [{"filter": {"field": "s", "equal": "e"}}], "mark": {"type": "line", "strokeWidth": 3.2}},
{"transform": [{"filter": {"field": "s", "equal": "f"}}], "mark": {"type": "line", "strokeWidth": 3.2}},
{"transform": [{"filter": {"field": "s", "equal": "g"}}], "mark": {"type": "line", "strokeWidth": 3.2}}
]
},
{
"data": {"values": [{"x": 1534.9, "y": -50.5, "t": "2"}]},
"mark": {"type": "text", "font": "Liberation Sans", "fontWeight": "bold", "fontSize": 46, "align": "center", "baseline": "alphabetic", "color": "#000"},
"encoding": {"x": {"field": "x", "type": "quantitative"}, "y": {"field": "y", "type": "quantitative"}, "text": {"field": "t"}}
}
]
}
